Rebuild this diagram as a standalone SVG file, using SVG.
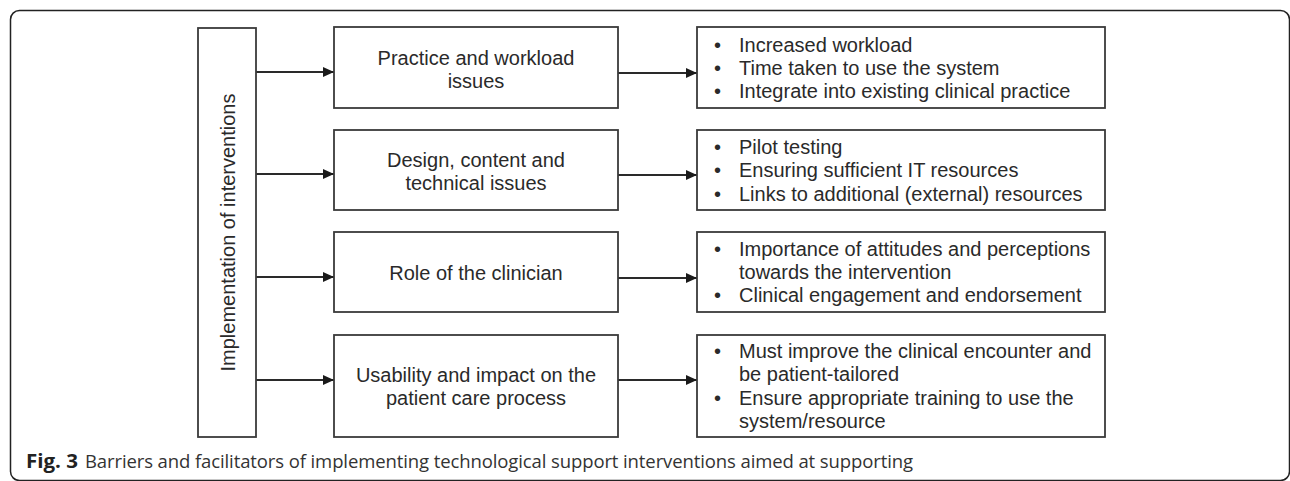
<svg xmlns="http://www.w3.org/2000/svg" width="1290" height="481" viewBox="0 0 1290 481">
<defs>
<style>
.box{fill:#fff;stroke:#3a3a3a;stroke-width:1.8}
.frame{fill:none;stroke:#222;stroke-width:1.5}
.t{font-family:"Liberation Sans",Arial,sans-serif;font-size:20px;fill:#2a2a2a}
.c{text-anchor:middle}
.line{stroke:#2a2a2a;stroke-width:1.8;fill:none}
.cap{font-family:"Open Sans","Noto Sans",sans-serif;font-size:18.5px;fill:#333}
</style>
<marker id="ah" viewBox="0 0 11 10" refX="11" refY="5" markerWidth="11" markerHeight="10" markerUnits="userSpaceOnUse" orient="auto">
<path d="M0,0 L11,5 L0,10 Z" fill="#1a1a1a"/>
</marker>
</defs>
<rect class="frame" x="10.5" y="10.5" width="1279" height="470" rx="9"/>

<g id="connectors">
<line class="line" x1="256" y1="72" x2="334" y2="72" marker-end="url(#ah)"/>
<line class="line" x1="256" y1="174" x2="334" y2="174" marker-end="url(#ah)"/>
<line class="line" x1="256" y1="277" x2="334" y2="277" marker-end="url(#ah)"/>
<line class="line" x1="256" y1="380" x2="334" y2="380" marker-end="url(#ah)"/>
<line class="line" x1="618" y1="73" x2="697" y2="73" marker-end="url(#ah)"/>
<line class="line" x1="618" y1="175" x2="697" y2="175" marker-end="url(#ah)"/>
<line class="line" x1="618" y1="278" x2="697" y2="278" marker-end="url(#ah)"/>
<line class="line" x1="618" y1="380" x2="697" y2="380" marker-end="url(#ah)"/>
</g>

<g id="root">
<rect class="box" x="198" y="28" width="58" height="409"/>
<text class="t c" transform="translate(235,232.5) rotate(-90)">Implementation of interventions</text>
</g>

<g id="practice">
<rect class="box" x="334" y="27" width="284" height="81"/>
<text class="t c" x="476" y="65">Practice and workload</text>
<text class="t c" x="476" y="88">issues</text>
</g>
<g id="design">
<rect class="box" x="334" y="130" width="284" height="80"/>
<text class="t c" x="476" y="167">Design, content and</text>
<text class="t c" x="476" y="190">technical issues</text>
</g>
<g id="role">
<rect class="box" x="334" y="232" width="284" height="80"/>
<text class="t c" x="476" y="280">Role of the clinician</text>
</g>
<g id="usability">
<rect class="box" x="334" y="335" width="284" height="102"/>
<text class="t c" x="476" y="382">Usability and impact on the</text>
<text class="t c" x="476" y="405">patient care process</text>
</g>

<g id="practice-items">
<rect class="box" x="697" y="27" width="408" height="81"/>
<text class="t" x="714" y="52">•</text><text class="t" x="739" y="52">Increased workload</text>
<text class="t" x="714" y="75">•</text><text class="t" x="739" y="75">Time taken to use the system</text>
<text class="t" x="714" y="98">•</text><text class="t" x="739" y="98">Integrate into existing clinical practice</text>
</g>
<g id="design-items">
<rect class="box" x="697" y="130" width="408" height="80"/>
<text class="t" x="714" y="154">•</text><text class="t" x="739" y="154">Pilot testing</text>
<text class="t" x="714" y="177">•</text><text class="t" x="739" y="177">Ensuring sufficient IT resources</text>
<text class="t" x="714" y="201">•</text><text class="t" x="739" y="201">Links to additional (external) resources</text>
</g>
<g id="role-items">
<rect class="box" x="697" y="232" width="408" height="80"/>
<text class="t" x="714" y="256">•</text><text class="t" x="739" y="256">Importance of attitudes and perceptions</text>
<text class="t" x="739" y="279">towards the intervention</text>
<text class="t" x="714" y="302">•</text><text class="t" x="739" y="302">Clinical engagement and endorsement</text>
</g>
<g id="usability-items">
<rect class="box" x="697" y="335" width="408" height="102"/>
<text class="t" x="714" y="358">•</text><text class="t" x="739" y="358">Must improve the clinical encounter and</text>
<text class="t" x="739" y="381">be patient-tailored</text>
<text class="t" x="714" y="405">•</text><text class="t" x="739" y="405">Ensure appropriate training to use the</text>
<text class="t" x="739" y="428">system/resource</text>
</g>

<g id="caption">
<text class="cap" x="26" y="468"><tspan font-weight="bold" fill="#222" font-size="19.5" textLength="52" lengthAdjust="spacingAndGlyphs">Fig. 3</tspan><tspan x="85" textLength="828" lengthAdjust="spacing">Barriers and facilitators of implementing technological support interventions aimed at supporting</tspan></text>
</g>
</svg>
